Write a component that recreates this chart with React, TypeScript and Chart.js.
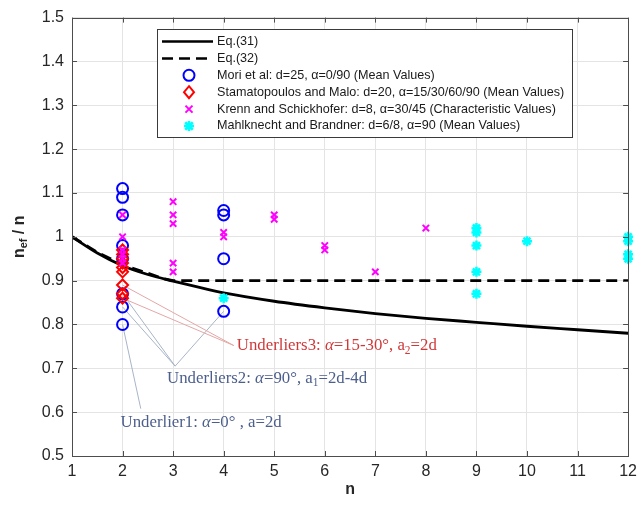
import React, { useEffect, useRef } from 'react';
import { Chart, registerables } from 'chart.js';

Chart.register(...registerables);

// ---------- data ----------
const eq31N = [1, 1.5, 2, 2.5, 3, 3.5, 4, 5, 6, 7, 8, 9, 10, 11, 12];
const eq31Val = [1.0, 0.963, 0.934, 0.914, 0.899, 0.885, 0.872, 0.853, 0.838, 0.825, 0.814, 0.805, 0.796, 0.788, 0.78];

const eq32N = [1, 1.5, 2, 2.5, 2.8, 3, 12];
const eq32Val = [1.0, 0.965, 0.936, 0.917, 0.905, 0.9, 0.9];

const moriN = [2, 2, 2, 2, 2, 2, 2, 2, 4, 4, 4, 4];
const moriVal = [1.11, 1.09, 1.05, 0.98, 0.95, 0.87, 0.84, 0.8, 1.06, 1.05, 0.95, 0.83];

const stamN = [2, 2, 2, 2, 2, 2, 2, 2, 2];
const stamVal = [0.97, 0.96, 0.95, 0.94, 0.93, 0.92, 0.89, 0.87, 0.86];

const krennN = [2, 2, 2, 2, 2, 2, 3, 3, 3, 3, 3, 4, 4, 5, 5, 6, 6, 7, 8];
const krennVal = [1.05, 1.0, 0.97, 0.96, 0.95, 0.94, 1.08, 1.05, 1.03, 0.94, 0.92, 1.01, 1.0, 1.05, 1.04, 0.98, 0.97, 0.92, 1.02];

const mahlN = [4, 9, 9, 9, 9, 9, 10, 12, 12, 12, 12];
const mahlVal = [0.86, 1.02, 1.01, 0.98, 0.92, 0.87, 0.99, 1.0, 0.99, 0.96, 0.95];

const xTickValues = [1, 2, 3, 4, 5, 6, 7, 8, 9, 10, 11, 12];
const yTickValues = [0.5, 0.6, 0.7, 0.8, 0.9, 1.0, 1.1, 1.2, 1.3, 1.4, 1.5];

const legendLabels = [
  'Eq.(31)',
  'Eq.(32)',
  'Mori et al: d=25, α=0/90 (Mean Values)',
  'Stamatopoulos and Malo: d=20, α=15/30/60/90 (Mean Values)',
  'Krenn and Schickhofer: d=8, α=30/45 (Characteristic Values)',
  'Mahlknecht and Brandner: d=6/8, α=90 (Mean Values)',
];

// annotation anchor points (data units): leader lines start at data points
const u1From = [[2, 0.8]];
const u1To = [2.36, 0.608];
const u2From = [[2, 0.87], [2, 0.84], [4, 0.83]];
const u2To = [3.04, 0.705];
const u3From = [[2, 0.89], [2, 0.86]];
const u3To = [4.2, 0.752];

const zip = (xs: number[], ys: number[]) => xs.map((x, i) => ({ x, y: ys[i] }));

const BLUE = '#0000ff';
const RED = '#ff0000';
const MAG = '#ff00ff';
const CYAN = '#00ffff';

type Seg = { t: string; italic?: boolean; sub?: boolean; bold?: boolean };

function drawRich(ctx: CanvasRenderingContext2D, x: number, y: number, segs: Seg[], size: number, family: string) {
  let cx = x;
  for (const s of segs) {
    const fs = s.sub ? size * 0.68 : size;
    ctx.font = `${s.italic ? 'italic ' : ''}${s.bold ? 'bold ' : ''}${fs}px ${family}`;
    ctx.fillText(s.t, cx, y + (s.sub ? size * 0.28 : 0));
    cx += ctx.measureText(s.t).width;
  }
  return cx - x;
}

function measureRich(ctx: CanvasRenderingContext2D, segs: Seg[], size: number, family: string) {
  let w = 0;
  for (const s of segs) {
    const fs = s.sub ? size * 0.68 : size;
    ctx.font = `${s.italic ? 'italic ' : ''}${s.bold ? 'bold ' : ''}${fs}px ${family}`;
    w += ctx.measureText(s.t).width;
  }
  return w;
}

function marker(ctx: CanvasRenderingContext2D, kind: string, x: number, y: number) {
  ctx.save();
  ctx.beginPath();
  if (kind === 'circle') {
    ctx.strokeStyle = BLUE; ctx.lineWidth = 2;
    ctx.arc(x, y, 5.5, 0, Math.PI * 2);
    ctx.stroke();
  } else if (kind === 'diamond') {
    ctx.strokeStyle = RED; ctx.lineWidth = 2;
    ctx.moveTo(x, y - 6); ctx.lineTo(x + 5, y); ctx.lineTo(x, y + 6); ctx.lineTo(x - 5, y); ctx.closePath();
    ctx.stroke();
  } else if (kind === 'x') {
    ctx.strokeStyle = MAG; ctx.lineWidth = 2;
    const r = 3.5;
    ctx.moveTo(x - r, y - r); ctx.lineTo(x + r, y + r);
    ctx.moveTo(x + r, y - r); ctx.lineTo(x - r, y + r);
    ctx.stroke();
  } else if (kind === 'star') {
    ctx.strokeStyle = CYAN; ctx.lineWidth = 2.5;
    const r = 5;
    ctx.moveTo(x - r, y); ctx.lineTo(x + r, y);
    ctx.moveTo(x, y - r); ctx.lineTo(x, y + r);
    const d = r * 0.75;
    ctx.moveTo(x - d, y - d); ctx.lineTo(x + d, y + d);
    ctx.moveTo(x + d, y - d); ctx.lineTo(x - d, y + d);
    ctx.stroke();
  }
  ctx.restore();
}

const decorPlugin = {
  id: 'decor',
  beforeDatasetsDraw(chart: any) {
    const ctx: CanvasRenderingContext2D = chart.ctx;
    const xs = chart.scales.x;
    const ys = chart.scales.y;
    const P = (p: number[]) => [xs.getPixelForValue(p[0]), ys.getPixelForValue(p[1])];
    ctx.save();
    ctx.lineWidth = 1;
    const groups: [number[][], number[], string][] = [
      [u1From, u1To, '#a8b4c8'],
      [u2From, u2To, '#a8b4c8'],
      [u3From, u3To, '#e4a6a6'],
    ];
    for (const [from, to, col] of groups) {
      ctx.strokeStyle = col;
      const [tx, ty] = P(to);
      for (const f of from) {
        const [fx, fy] = P(f);
        ctx.beginPath();
        ctx.moveTo(fx, fy);
        ctx.lineTo(tx, ty);
        ctx.stroke();
      }
    }
    ctx.restore();
  },
  afterDraw(chart: any) {
    const ctx: CanvasRenderingContext2D = chart.ctx;
    const a = chart.chartArea;
    const xs = chart.scales.x;
    const ys = chart.scales.y;
    ctx.save();
    // box
    ctx.strokeStyle = '#4d4d4d';
    ctx.lineWidth = 1;
    ctx.strokeRect(Math.round(a.left) + 0.5, Math.round(a.top) + 0.5, Math.round(a.right - a.left), Math.round(a.bottom - a.top));
    // inward ticks
    ctx.beginPath();
    for (const v of xTickValues) {
      const px = Math.round(xs.getPixelForValue(v)) + 0.5;
      ctx.moveTo(px, a.bottom); ctx.lineTo(px, a.bottom - 5);
      ctx.moveTo(px, a.top); ctx.lineTo(px, a.top + 5);
    }
    for (const v of yTickValues) {
      const py = Math.round(ys.getPixelForValue(v)) + 0.5;
      ctx.moveTo(a.left, py); ctx.lineTo(a.left + 5, py);
      ctx.moveTo(a.right, py); ctx.lineTo(a.right - 5, py);
    }
    ctx.stroke();

    // annotation texts
    const serif = '"Liberation Serif", "DejaVu Serif", serif';
    ctx.textBaseline = 'middle';
    ctx.textAlign = 'left';
    ctx.fillStyle = '#4b5e8c';
    const ax = (v: number) => xs.getPixelForValue(v);
    const ay = (v: number) => ys.getPixelForValue(v);
    drawRich(ctx, ax(1.96), ay(0.576), [
      { t: 'Underlier1: ' }, { t: 'α', italic: true }, { t: '=0° , a=2d' },
    ], 16.8, serif);
    drawRich(ctx, ax(2.88), ay(0.677), [
      { t: 'Underliers2: ' }, { t: 'α', italic: true }, { t: '=90°, a' }, { t: '1', sub: true }, { t: '=2d-4d' },
    ], 16.8, serif);
    ctx.fillStyle = '#d03838';
    drawRich(ctx, ax(4.26), ay(0.751), [
      { t: 'Underliers3: ' }, { t: 'α', italic: true }, { t: '=15-30°, a' }, { t: '2', sub: true }, { t: '=2d' },
    ], 16.8, serif);

    // legend
    const sans = '"Liberation Sans", Arial, sans-serif';
    const lx = 157, ly = 29, lw = 415, lh = 108;
    ctx.fillStyle = '#ffffff';
    ctx.fillRect(lx, ly, lw, lh);
    ctx.strokeStyle = '#3a3a3a';
    ctx.lineWidth = 1;
    ctx.strokeRect(lx + 0.5, ly + 0.5, lw, lh);
    const rowY = (i: number) => ly + 12.5 + i * 16.9;
    ctx.strokeStyle = '#000';
    ctx.lineWidth = 2.5;
    ctx.beginPath(); ctx.moveTo(162, rowY(0)); ctx.lineTo(213, rowY(0)); ctx.stroke();
    ctx.setLineDash([11, 6]);
    ctx.beginPath(); ctx.moveTo(162, rowY(1)); ctx.lineTo(213, rowY(1)); ctx.stroke();
    ctx.setLineDash([]);
    const kinds = ['circle', 'diamond', 'x', 'star'];
    kinds.forEach((k, i) => marker(ctx, k, 189, rowY(i + 2)));
    ctx.fillStyle = '#1a1a1a';
    ctx.font = `12.6px ${sans}`;
    legendLabels.forEach((t, i) => ctx.fillText(t, 217, rowY(i)));

    // axis titles
    ctx.fillStyle = '#262626';
    ctx.font = `bold 16px ${sans}`;
    ctx.textAlign = 'center';
    ctx.fillText('n', (a.left + a.right) / 2, 490);
    ctx.textAlign = 'left';
    const tSegs: Seg[] = [{ t: 'n', bold: true }, { t: 'ef', bold: true, sub: true }, { t: ' / n', bold: true }];
    const tw = measureRich(ctx, tSegs, 16, sans);
    ctx.translate(20, (a.top + a.bottom) / 2);
    ctx.rotate(-Math.PI / 2);
    drawRich(ctx, -tw / 2, 0, tSegs, 16, sans);
    ctx.restore();
  },
};

export default function App() {
  const ref = useRef<HTMLCanvasElement | null>(null);
  useEffect(() => {
    document.body.style.margin = '0';
    const canvas = ref.current!;
    const chart = new Chart(canvas, {
      type: 'scatter',
      data: {
        datasets: [
          {
            type: 'line', label: legendLabels[0], data: zip(eq31N, eq31Val),
            borderColor: '#000', borderWidth: 2.8, pointRadius: 0, cubicInterpolationMode: 'monotone', fill: false, order: 5,
          } as any,
          {
            type: 'line', label: legendLabels[1], data: zip(eq32N, eq32Val),
            borderColor: '#000', borderWidth: 2.8, borderDash: [11, 6], pointRadius: 0, tension: 0, fill: false, order: 6,
          } as any,
          {
            label: legendLabels[2], data: zip(moriN, moriVal), pointStyle: 'circle', pointRadius: 5.5,
            borderColor: BLUE, backgroundColor: 'rgba(0,0,0,0)', borderWidth: 2, clip: false, order: 4,
          } as any,
          {
            label: legendLabels[3], data: zip(stamN, stamVal), pointStyle: 'rectRot', pointRadius: 5.5,
            borderColor: RED, backgroundColor: 'rgba(0,0,0,0)', borderWidth: 2, clip: false, order: 3,
          } as any,
          {
            label: legendLabels[4], data: zip(krennN, krennVal), pointStyle: 'crossRot', pointRadius: 4.5,
            borderColor: MAG, backgroundColor: MAG, borderWidth: 2, clip: false, order: 2,
          } as any,
          {
            label: legendLabels[5], data: zip(mahlN, mahlVal), pointStyle: 'star', pointRadius: 5,
            borderColor: CYAN, backgroundColor: CYAN, borderWidth: 2.5, clip: false, order: 1,
          } as any,
        ],
      },
      options: {
        responsive: false,
        animation: false,
        events: [],
        layout: { padding: { top: 15, right: 11, left: 0, bottom: 0 } },
        plugins: { legend: { display: false }, tooltip: { enabled: false }, title: { display: false } },
        scales: {
          x: {
            type: 'linear', min: 1, max: 12,
            afterFit: (s: any) => { s.height = 50; },
            afterBuildTicks: (s: any) => { s.ticks = xTickValues.map((v) => ({ value: v })); },
            ticks: { color: '#262626', font: { size: 16, family: '"Liberation Sans", Arial, sans-serif' }, padding: 6, maxRotation: 0, autoSkip: false, callback: (v: any) => String(v) },
            grid: { color: '#e4e4e4', lineWidth: 1, drawTicks: false },
            border: { display: false },
          },
          y: {
            type: 'linear', min: 0.5, max: 1.5,
            afterFit: (s: any) => { s.width = 72; },
            afterBuildTicks: (s: any) => { s.ticks = yTickValues.map((v) => ({ value: v })); },
            ticks: { color: '#262626', font: { size: 16, family: '"Liberation Sans", Arial, sans-serif' }, padding: 8, autoSkip: false, callback: (v: any) => String(Number(Number(v).toFixed(1))) },
            grid: { color: '#e4e4e4', lineWidth: 1, drawTicks: false },
            border: { display: false },
          },
        },
      } as any,
      plugins: [decorPlugin],
    });
    return () => chart.destroy();
  }, []);
  return (
    <div style={{ position: 'relative', width: 643, height: 506, background: '#fff' }}>
      <canvas ref={ref} width={643} height={506} style={{ display: 'block', width: 643, height: 506 }} />
    </div>
  );
}
